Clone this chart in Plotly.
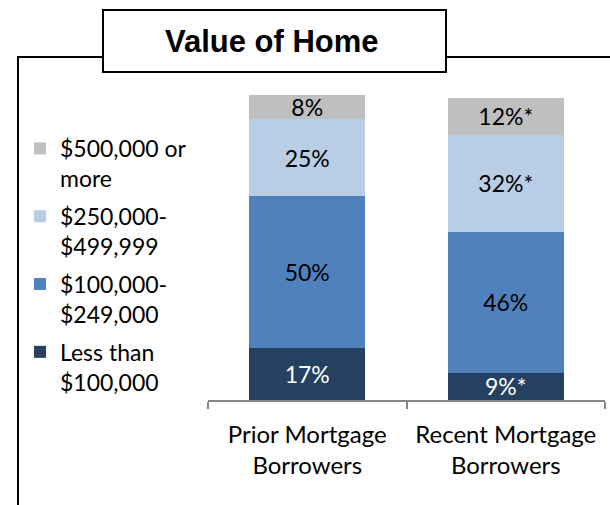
import plotly.graph_objects as go

categories = ["Prior Mortgage<br>Borrowers", "Recent Mortgage<br>Borrowers"]
series_names = ["Less than<br>$100,000", "$100,000-<br>$249,000", "$250,000-<br>$499,999", "$500,000 or<br>more"]
less_100k = [17, 9]
k100_249 = [50, 46]
k250_499 = [25, 32]
k500_plus = [8, 12]
significant = [[False, True], [False, False], [False, True], [False, True]]
colors = ["#254061", "#4F81BD", "#B9CDE5", "#BFBFBF"]
text_colors = ["white", "black", "black", "black"]

W, H = 610, 505
L, R, T, B = 208, 5, 95, 105
pw, ph = W - L - R, H - T - B

def px(x):
    return (x - L) / pw

def py(y):
    return (H - B - y) / ph

fig = go.Figure()
n = len(series_names)
for i, (name, vals, sig, col, tcol) in enumerate(zip(series_names, [less_100k, k100_249, k250_499, k500_plus],
                                                     significant, colors, text_colors)):
    fig.add_trace(go.Bar(
        x=categories, y=vals, name=name, legendgroup=f"g{i}", legendrank=n - i,
        marker=dict(color=col, line=dict(width=0)),
        width=0.585,
        text=[f"{v}%" + ("*" if s else "") for v, s in zip(vals, sig)],
        textposition="inside", insidetextanchor="middle", constraintext="none",
        textfont=dict(family="Lato", size=23, color=tcol),
        hoverinfo="skip",
    ))

fig.update_layout(
    barmode="stack",
    width=W, height=H,
    margin=dict(l=L, r=R, t=T, b=B, autoexpand=False),
    paper_bgcolor="white", plot_bgcolor="white",
    font=dict(family="Lato", size=23, color="black"),
    showlegend=True,
    legend=dict(
        x=px(20), xanchor="left", y=py(127), yanchor="top",
        traceorder="grouped", valign="top", tracegroupgap=5,
        font=dict(family="Lato", size=23, color="black"),
        bgcolor="rgba(0,0,0,0)",
    ),
    xaxis=dict(
        range=[-0.5, 1.5], showline=True, linecolor="#868686", linewidth=1.5,
        ticks="outside", tickson="boundaries", ticklen=7, tickcolor="#868686", tickwidth=1.5,
        showgrid=False, tickfont=dict(family="Lato", size=24, color="black"),
        ticklabelstandoff=12,
    ),
    yaxis=dict(range=[0, 100], visible=False, showgrid=False),
)

line = dict(color="black", width=2)
# frame lines
fig.add_shape(type="line", xref="paper", yref="paper", x0=px(17), x1=px(612), y0=py(57), y1=py(57), line=line)
fig.add_shape(type="line", xref="paper", yref="paper", x0=px(18), x1=px(18), y0=py(56), y1=py(510), line=line)
# title box
fig.add_shape(type="rect", xref="paper", yref="paper", x0=px(103), x1=px(446), y0=py(10), y1=py(72),
              line=line, fillcolor="white")
fig.add_annotation(text="<b>Value of Home</b>", xref="paper", yref="paper", x=px(272), y=py(42),
                   xanchor="center", yanchor="middle", showarrow=False,
                   font=dict(family="Liberation Sans, Arial", size=31, color="black"))

fig.write_html("out.html", config={"displayModeBar": False},
               post_script="document.body.style.margin='0';")
